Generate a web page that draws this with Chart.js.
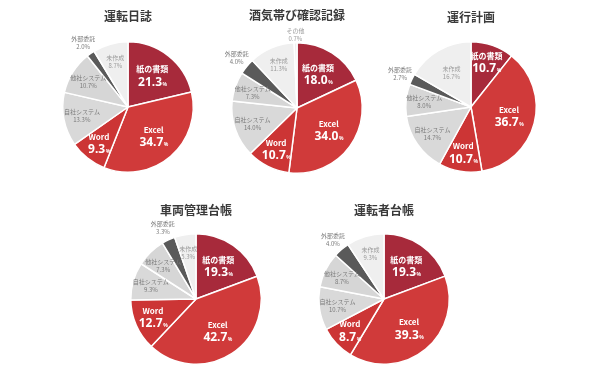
<!DOCTYPE html>
<html lang="ja">
<head>
<meta charset="UTF-8">
<title>帳票の管理方法</title>
<style>
  body { margin:0; background:#fff; width:598px; height:378px; position:relative; overflow:hidden;
         font-family:"Noto Sans CJK JP", sans-serif; }
  .box { position:absolute; width:200px; height:180px; }
  .ttl { position:absolute; width:160px; text-align:center; font-size:12px; font-weight:bold; color:#3a3a3a; line-height:16px; }
</style>
</head>
<body>
<div class="box" id="b0"><canvas id="c0"></canvas></div>
<div class="box" id="b1"><canvas id="c1"></canvas></div>
<div class="box" id="b2"><canvas id="c2"></canvas></div>
<div class="box" id="b3"><canvas id="c3"></canvas></div>
<div class="box" id="b4"><canvas id="c4"></canvas></div>
<div class="ttl" id="t0"></div>
<div class="ttl" id="t1"></div>
<div class="ttl" id="t2"></div>
<div class="ttl" id="t3"></div>
<div class="ttl" id="t4"></div>

<script src="https://cdn.jsdelivr.net/npm/chart.js"></script>
<script>
  // data
  const titles = ['運転日誌', '酒気帯び確認記録', '運行計画', '車両管理台帳', '運転者台帳'];
  const categories = ['紙の書類', 'Excel', 'Word', '自社システム', '他社システム', '外部委託', '未作成', 'その他'];
  const nisshi   = [21.3, 34.7,  9.3, 13.3, 10.7, 2.0,  8.7, 0];
  const shuki    = [18.0, 34.0, 10.7, 14.0,  7.3, 4.0, 11.3, 0.7];
  const unko     = [10.7, 36.7, 10.7, 14.7,  8.0, 2.7, 16.7, 0];
  const sharyo   = [19.3, 42.7, 12.7,  9.3,  7.3, 3.3,  5.3, 0];
  const untensha = [19.3, 39.3,  8.7, 10.7,  8.7, 4.0,  9.3, 0];
  const allData = [nisshi, shuki, unko, sharyo, untensha];

  const colors = ['#a72a3b', '#d03a3a', '#cc3535', '#d9d9d9', '#d6d6d6', '#5a5a5a', '#efefef', '#efefef'];
  // pie centres in the page
  const centers = [[128,107],[297,108],[471,107],[196,299],[384,299]];
  const titleY = [8, 7, 9, 202, 202];

  const labelPlugin = {
    id: 'sliceLabels',
    afterDatasetsDraw(chart) {
      const ctx = chart.ctx;
      const meta = chart.getDatasetMeta(0);
      const vals = chart.data.datasets[0].data;
      meta.data.forEach((arc, i) => {
        const v = vals[i];
        if (!v) return;
        const mid = (arc.startAngle + arc.endAngle) / 2;
        let f = v >= 15 ? 0.6 : 0.72;
        if (i === 5) f = 1.2;
        if (i === 7) f = 1.13;
        const x = arc.x + Math.cos(mid) * arc.outerRadius * f;
        const y = arc.y + Math.sin(mid) * arc.outerRadius * f;
        ctx.save();
        ctx.textAlign = 'center';
        ctx.textBaseline = 'middle';
        if (i < 3) {
          ctx.fillStyle = '#fff';
          ctx.font = 'bold 8px "Noto Sans CJK JP"';
          ctx.fillText(categories[i], x, y - 7);
          const num = v.toFixed(1);
          ctx.font = 'bold 12px "Noto Sans"';
          const w1 = ctx.measureText(num).width;
          ctx.font = 'bold 5px "Noto Sans"';
          const w2 = ctx.measureText('%').width;
          const x0 = x - (w1 + w2) / 2;
          ctx.textAlign = 'left';
          ctx.font = 'bold 12px "Noto Sans"';
          ctx.fillText(num, x0, y + 6);
          ctx.font = 'bold 5px "Noto Sans"';
          ctx.fillText('%', x0 + w1 + 0.5, y + 8);
        } else {
          ctx.fillStyle = i >= 6 ? '#9a9a9a' : '#7a7a7a';
          ctx.font = '6px "Noto Sans CJK JP"';
          ctx.fillText(categories[i], x, y - 4);
          ctx.fillText(v.toFixed(1) + '%', x, y + 4);
        }
        ctx.restore();
      });
    }
  };

  allData.forEach((vals, k) => {
    const [cx, cy] = centers[k];
    const box = document.getElementById('b' + k);
    box.style.left = (cx - 100) + 'px';
    box.style.top = (cy - 90) + 'px';
    const t = document.getElementById('t' + k);
    t.textContent = titles[k];
    t.style.left = (cx - 80) + 'px';
    t.style.top = titleY[k] + 'px';

    new Chart(document.getElementById('c' + k), {
      type: 'pie',
      data: {
        labels: categories,
        datasets: [{
          data: vals,
          backgroundColor: colors,
          borderColor: '#fff',
          borderWidth: 1.5
        }]
      },
      options: {
        responsive: true,
        maintainAspectRatio: false,
        animation: false,
        layout: { padding: 24 },
        plugins: { legend: { display: false }, tooltip: { enabled: false } }
      },
      plugins: [labelPlugin]
    });
  });
</script>
</body>
</html>
